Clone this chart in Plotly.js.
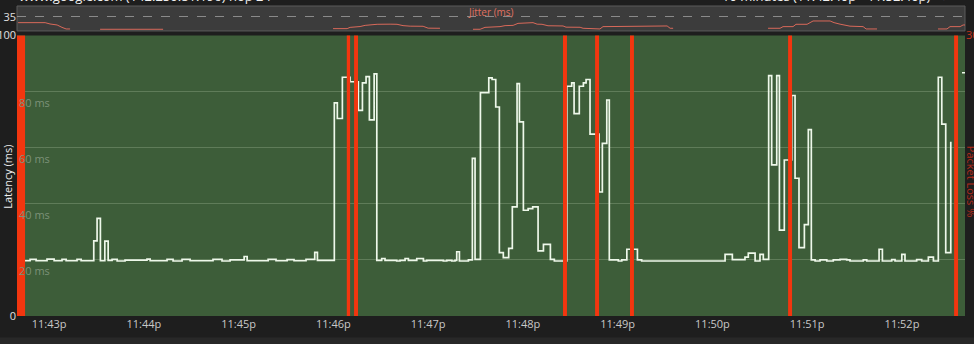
<!DOCTYPE html>
<html><head><meta charset="utf-8">
<script src="https://cdn.plot.ly/plotly-3.0.1.min.js"></script>
<style>html,body{margin:0;padding:0;background:#1e1e1e;overflow:hidden}#chart{width:974px;height:344px}</style>
</head><body><div id="chart"></div><script>
const hopLabel = 'www.google.com (142.250.81.196) hop 24';
const rangeLabel = '10 minutes (11:42:40p - 11:52:40p)';
const startUTC = Date.UTC(2024, 0, 1, 23, 42, 40);
const windowSec = [-0.3, 599.9];

// latency samples (seconds after 11:42:40p, ms)
const latencySec = [0, 8.0, 11.8, 18.7, 23.2, 28.2, 30.8, 37.7, 40.3, 48.3, 50.4, 52.5, 55.3, 57.4, 59.9, 63.1, 68.1, 82.0, 84.0, 94.7, 98.5, 104.2, 109.3, 123.8, 129.5, 134.6, 143.5, 145.4, 158.7, 163.7, 170.7, 175.1, 182.7, 188.2, 189.9,
  200.6, 202.5, 205.7, 210.6, 215.8, 218.4, 220.7, 222.8, 225.8, 227.5, 230.6, 232.7, 240.1, 242.2, 245.4, 247.5, 252.8, 257.0, 259.1, 269.6, 271.8, 275.0, 277.0, 278.1, 279.8,
  285.5, 288.0, 289.7, 293.1, 298.4, 300.5, 302.8, 305.1, 307.6, 311.0, 313.3, 316.3, 317.8, 320.3, 323.3, 326.2, 329.6, 333.0, 337.4, 339.9,
  347.8, 350.9, 352.4, 355.7, 358.3, 360.0, 362.5, 368.2, 370.3, 373.1, 374.7, 380.4, 382.6, 385.8, 392.5, 395.2,
  448.0, 452.6, 460.6, 462.7, 467.0, 470.1, 472.2, 475.6, 477.5, 480.7, 482.4, 485.5, 490.2, 492.3, 494.8, 498.2, 500.7, 502.6, 505.0, 508.1, 512.4, 516.5, 520.8, 525.0, 527.1, 535.5, 537.7,
  545.5, 547.6, 553.5, 555.6, 559.9, 561.9, 569.3, 572.5, 576.7, 579.9, 583.0, 585.2, 587.7, 590.9, 593.0, 598.0, 599.9];
const latencyMs = [19.7, 20.2, 19.7, 20.3, 19.7, 20.2, 19.7, 20.2, 19.7, 26.8, 34.8, 19.7, 26.7, 19.8, 20.2, 19.6, 19.9, 20.3, 19.7, 20.2, 19.6, 20.2, 19.7, 20.2, 19.6, 20.0, 21.2, 19.7, 20.2, 19.7, 20.1, 19.7, 20.2, 22.7, 19.8,
  76.0, 70.4, 85.1, 83.5, 73.3, 83.1, 85.3, 69.9, 86.3, 19.8, 20.5, 19.8, 19.6, 19.8, 20.5, 19.8, 20.5, 19.6, 19.8, 19.6, 19.8, 19.6, 19.8, 22.9, 19.6,
  20.0, 56.2, 20.2, 79.6, 84.9, 84.3, 74.5, 22.6, 20.8, 24.1, 38.9, 82.8, 69.2, 37.7, 38.3, 38.9, 23.2, 25.5, 20.2, 19.6,
  81.9, 83.1, 72.1, 81.9, 83.1, 84.3, 64.8, 44.2, 61.5, 77.0, 20.0, 19.6, 20.0, 23.8, 20.0, 19.6,
  22.0, 20.1, 21.0, 22.4, 19.6, 22.0, 20.2, 85.7, 53.9, 85.7, 30.6, 55.6, 78.6, 49.1, 24.4, 32.6, 66.4, 20.0, 19.6, 20.0, 19.6, 20.0, 20.2, 20.0, 19.6, 20.0, 19.6,
  23.8, 19.6, 20.1, 19.6, 22.0, 19.6, 20.1, 19.6, 21.0, 19.6, 85.1, 68.4, 22.6, 62.1, null, 86.7, 86.7];

// packet loss events
const lossStartSec = [-0.3, 208.5, 213.1, 345.4, 365.7, 387.8, 487.9, 593.0];
const lossDurSec = [5.1, 2.1, 2.5, 2.5, 2.5, 2.5, 2.5, 2.5];
const lossPct = [100, 100, 100, 100, 100, 100, 100, 100];

// jitter (ms)
const jitterSec = [0.4, 17.5, 20.6, 25.1, 28.2, 30.8, 33.3, null, 52.3, 92.2, null,
  199.8, 208.7, 210.6, 216.9, 220.1, 227.7, 235.9, 240.3, 244.1, 248.6, 256.8, 260.0, 267.5, null,
  288.4, 292.9, 296.0, 305.5, 308.7, 313.8, 316.9, 326.4, 329.0, 332.1, 335.9, 345.4, 347.3, 356.2, 358.1, 362.5, 364.4, 368.8, 370.7, 377.1, 379.0, 411.3, 413.2, 415.1, null,
  475.2, 482.8, 484.7, 491.0, 492.9, 499.9, 501.8, 503.7, 514.5, 517.0, 520.8, 524.0, 527.1, 535.4, 537.3, 544.2, null,
  582.8, 588.5, 590.4, 596.8, 598.7, 599.9];
const jitterMs = [20.8, 20.8, 17.5, 15, 9, 5, 5, null, 4.2, 4.2, null,
  5.8, 5.8, 9, 11, 14, 16.7, 17, 16.7, 13.3, 12, 11.7, 7, 6.7, null,
  4.2, 4.2, 9, 10.8, 13.3, 14, 19, 20.8, 17, 16.7, 13, 12.5, 9.5, 9.2, 6.7, 6.7, 5, 5, 10.8, 10.8, 12.5, 12.5, 6.7, 6.7, null,
  6.7, 6.7, 10.8, 10.8, 16.7, 16.7, 20.8, 25, 25, 20.8, 17, 15, 12, 10.8, 5, 5, null,
  5, 5, 10.8, 10.8, 15, 15];

const gridMs = [20, 40, 60, 80];

const toT = s => (s === null ? null : startUTC + s * 1000);

const lossX = [], lossY = [];
lossStartSec.forEach((s, i) => {
  const e = s + lossDurSec[i];
  lossX.push(toT(s), toT(s), toT(e), toT(e), null);
  lossY.push(0, lossPct[i], lossPct[i], 0, null);
});

const F = 'Open Sans, Noto Sans, sans-serif';

const traces = [
  {x: latencySec.map(toT), y: latencyMs, type: 'scatter', mode: 'lines', xaxis: 'x', yaxis: 'y',
   line: {shape: 'hv', color: '#eef8ea', width: 1.7}, connectgaps: false, hoverinfo: 'skip'},
  {x: lossX, y: lossY, type: 'scatter', mode: 'lines', xaxis: 'x', yaxis: 'y2', fill: 'toself',
   fillcolor: '#f2360f', line: {width: 0, color: '#f2360f'}, hoverinfo: 'skip'},
  {x: jitterSec.map(toT), y: jitterMs, type: 'scatter', mode: 'lines', xaxis: 'x', yaxis: 'y3',
   line: {color: '#d9695a', width: 1}, connectgaps: false, hoverinfo: 'skip'}
];

const annotations = gridMs.map(g => ({
  xref: 'paper', x: 0, xanchor: 'left', yref: 'y', y: g, yanchor: 'top', yshift: -1,
  text: g + ' ms', showarrow: false, font: {family: F, size: 11, color: '#7c9178'}
}));
annotations.push(
  {xref: 'paper', x: 0, xanchor: 'center', xshift: -9, yref: 'paper', y: 0.449, yanchor: 'middle', text: 'Latency (ms)', textangle: -90,
   showarrow: false, font: {family: F, size: 11, color: '#ededed'}},
  {xref: 'paper', x: 1, xanchor: 'center', xshift: 6, yref: 'paper', y: 0.433, yanchor: 'middle', text: 'Packet Loss %', textangle: 90,
   showarrow: false, font: {family: F, size: 11, color: '#b22a1a'}},
  {xref: 'paper', x: 0.5, xanchor: 'center', yref: 'paper', y: 0.9807, yanchor: 'middle', text: 'Jitter (ms)',
   showarrow: false, font: {family: F, size: 10, color: '#e0705f'}},
  {xref: 'paper', x: 0, xanchor: 'left', yref: 'paper', y: 1.031, yanchor: 'middle', text: hopLabel,
   showarrow: false, font: {family: F, size: 13, color: '#f0f0f0'}},
  {xref: 'paper', x: 0.9662, xanchor: 'right', yref: 'paper', y: 1.031, yanchor: 'middle', text: rangeLabel,
   showarrow: false, font: {family: F, size: 13, color: '#f0f0f0'}},
  {xref: 'paper', x: 0.9776, xanchor: 'center', yref: 'paper', y: 1.031, yanchor: 'middle', text: '●',
   showarrow: false, font: {family: F, size: 13, color: '#9a9a9a'}}
);

const layout = {
  width: 974, height: 344,
  margin: {l: 17, r: 9, t: 6, b: 27.5, pad: 0},
  paper_bgcolor: '#1e1e1e', plot_bgcolor: '#1e1e1e',
  showlegend: false,
  font: {family: F, size: 11, color: '#c8c8c8'},
  xaxis: {type: 'date', range: windowSec.map(toT), tickformat: '%-I:%Mp', dtick: 60000, tick0: toT(20),
    showgrid: false, zeroline: false, showline: false, ticks: '', anchor: 'y',
    tickfont: {family: F, size: 11, color: '#c8c8c8'}},
  yaxis: {domain: [0, 0.905], range: [0, 100], tickvals: [0, 20, 40, 60, 80, 100],
    ticktext: ['0', '', '', '', '', '100'], showgrid: true, gridcolor: '#5f7c59', gridwidth: 1,
    zeroline: false, showline: false, ticks: '', tickfont: {family: F, size: 11, color: '#e0e0e0'}, fixedrange: true},
  yaxis2: {overlaying: 'y', side: 'right', range: [0, 30], tickvals: [30], ticktext: ['30'],
    showgrid: false, zeroline: false, showline: false, ticks: '',
    tickfont: {family: F, size: 11, color: '#c8331b'}},
  yaxis3: {domain: [0.9195, 1], anchor: 'x', range: [0, 62.5], tickvals: [35], ticktext: ['35'],
    showgrid: true, gridcolor: '#8a8a8a', griddash: 'dash', gridwidth: 1, zeroline: false, showline: false, ticks: '',
    tickfont: {family: F, size: 11, color: '#e0e0e0'}},
  shapes: [
    {type: 'rect', layer: 'below', xref: 'paper', x0: 0, x1: 1, yref: 'y domain', y0: 0, y1: 1,
     fillcolor: '#3d5d39', line: {width: 0}},
    {type: 'rect', layer: 'below', xref: 'paper', x0: 0, x1: 1, yref: 'y3 domain', y0: 0, y1: 1,
     fillcolor: '#3c3c3c', line: {width: 1, color: '#5a5a5a'}},
    {type: 'rect', layer: 'below', xref: 'paper', x0: -0.05, x1: 1.05, yref: 'paper', y0: -0.069, y1: -0.2,
     fillcolor: '#282828', line: {width: 0}}
  ],
  annotations: annotations
};

Plotly.newPlot('chart', traces, layout, {staticPlot: true, displayModeBar: false});
</script></body></html>
